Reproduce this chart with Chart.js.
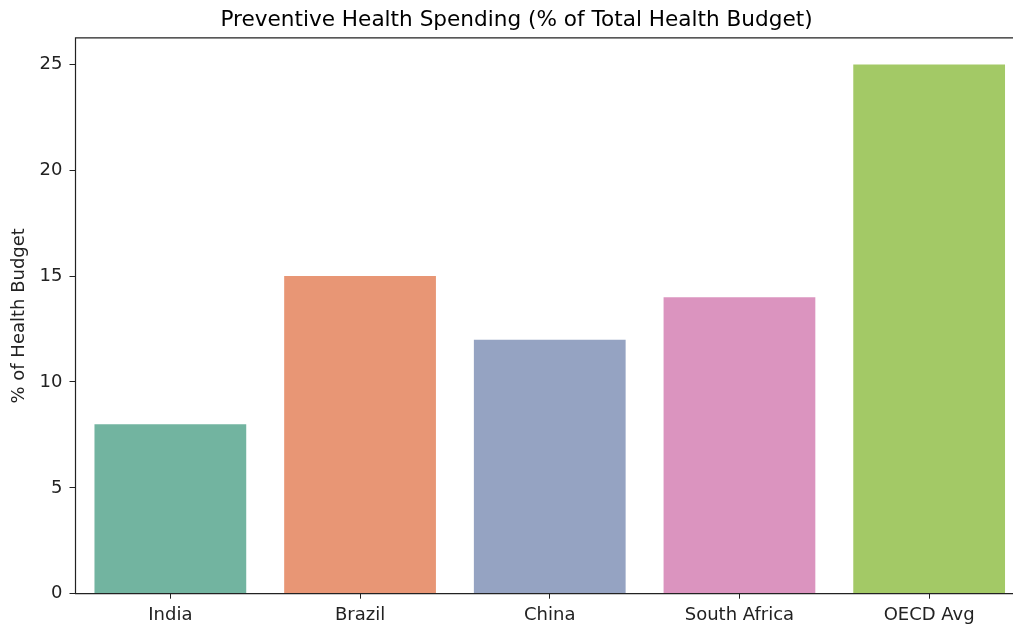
<!DOCTYPE html>
<html>
<head>
<meta charset="utf-8">
<script src="https://cdn.jsdelivr.net/npm/chart.js@4/dist/chart.umd.min.js"></script>
<style>
  html, body { margin: 0; padding: 0; background: #fff; overflow: hidden; }
  #wrap { width: 1013px; height: 627px; overflow: hidden; position: relative; }
  #chart { position: absolute; left: 0; top: 0; }
</style>
</head>
<body>
<div id="wrap"><canvas id="chart" width="1024" height="627"></canvas></div>
<script>
// data
const countries = ['India', 'Brazil', 'China', 'South Africa', 'OECD Avg'];
const preventiveShare = [8, 15, 12, 14, 25];
const barColors = ['#72b4a0', '#e89675', '#95a3c2', '#db94bf', '#a3c966'];
const yTicks = [0, 5, 10, 15, 20, 25];

const FONT = "'DejaVu Sans', sans-serif";

// left, top and bottom spines (the right one falls outside the picture)
const frame = {
  id: 'frame',
  afterDraw(chart) {
    const a = chart.chartArea, c = chart.ctx;
    c.save();
    c.strokeStyle = '#222';
    c.lineWidth = 1.2;
    c.beginPath();
    c.moveTo(a.right + 5, a.top);
    c.lineTo(a.left, a.top);
    c.lineTo(a.left, a.bottom);
    c.lineTo(a.right + 5, a.bottom);
    c.stroke();
    c.restore();
  }
};

new Chart(document.getElementById('chart').getContext('2d'), {
  type: 'bar',
  data: {
    labels: countries,
    datasets: [{
      data: preventiveShare,
      backgroundColor: barColors,
      borderWidth: 0,
      categoryPercentage: 1.0,
      barPercentage: 0.8
    }]
  },
  plugins: [frame],
  options: {
    responsive: false,
    animation: false,
    layout: { padding: { left: 9, right: 0, top: 0, bottom: -5 } },
    plugins: {
      legend: { display: false },
      tooltip: { enabled: false },
      title: {
        display: true,
        text: 'Preventive Health Spending (% of Total Health Budget)',
        color: '#000',
        font: { family: FONT, size: 21.6, weight: 'normal' },
        padding: { top: 7, bottom: 5 }
      }
    },
    scales: {
      x: {
        grid: { offset: false, drawOnChartArea: false, drawTicks: true, tickLength: 5, color: '#222' },
        border: { display: false },
        ticks: { color: '#222', font: { family: FONT, size: 18, lineHeight: 0.85 }, padding: 9 }
      },
      y: {
        min: 0,
        max: 26.25,
        afterBuildTicks(axis) { axis.ticks = yTicks.map(v => ({ value: v })); },
        grid: { drawOnChartArea: false, drawTicks: true, tickLength: 6, color: '#222' },
        border: { display: false },
        ticks: { color: '#222', font: { family: FONT, size: 18 }, padding: 7 },
        title: {
          display: true,
          text: '% of Health Budget',
          color: '#222',
          font: { family: FONT, size: 18 },
          padding: { top: 0, bottom: 2 }
        }
      }
    }
  }
});
</script>
</body>
</html>
